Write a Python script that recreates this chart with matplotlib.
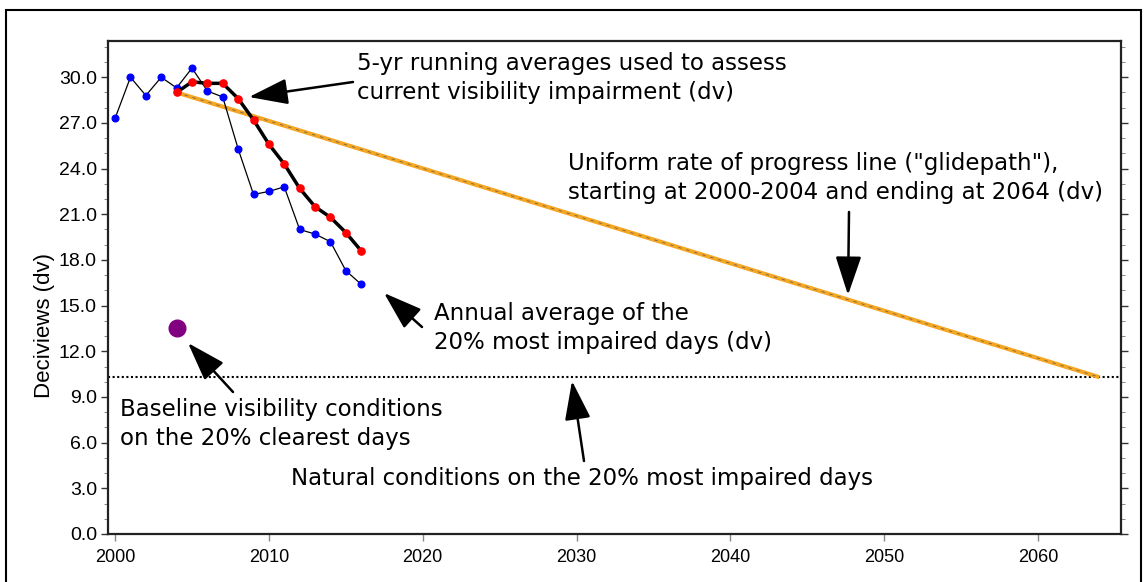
import matplotlib
matplotlib.use("Agg")
import matplotlib.pyplot as plt
from matplotlib.ticker import MultipleLocator, FormatStrFormatter
from matplotlib.patches import Rectangle

years_annual = [2000, 2001, 2002, 2003, 2004, 2005, 2006, 2007, 2008,
                2009, 2010, 2011, 2012, 2013, 2014, 2015, 2016]
annual_dv = [27.3, 30.0, 28.8, 30.0, 29.3, 30.6, 29.1, 28.7, 25.3,
             22.3, 22.5, 22.8, 20.0, 19.7, 19.2, 17.3, 16.4]

years_avg = [2004, 2005, 2006, 2007, 2008, 2009, 2010, 2011, 2012,
             2013, 2014, 2015, 2016]
avg_dv = [29.0, 29.7, 29.6, 29.6, 28.6, 27.2, 25.6, 24.3, 22.7,
          21.5, 20.8, 19.8, 18.6]

glide_years = [2004, 2064]
glide_dv = [29.0, 10.3]

natural_dv = 10.3
baseline_year = [2004]
baseline_dv = [13.5]

W, H = 1147, 582
fig = plt.figure(figsize=(W / 100, H / 100), dpi=100)
ax = fig.add_axes([108 / W, 1 - 534 / H, (1121 - 108) / W, (534 - 40.7) / H])

# outer frame
fig.patches.append(Rectangle((6 / W, -0.05), (1141 - 6) / W, 1 - 10 / H + 0.05,
                             transform=fig.transFigure, fill=False,
                             edgecolor='black', linewidth=1.5))

ax.axhline(natural_dv, color='black', linestyle=(0, (1, 1.2)), linewidth=1.5, zorder=2)
ax.plot(glide_years, glide_dv, color='#f5a623', linewidth=3, zorder=3, solid_capstyle='butt')
ax.plot(glide_years, glide_dv, color='#555555', linewidth=0.6,
        linestyle=(0, (4, 6)), zorder=4, alpha=0.8)
ax.plot(years_annual, annual_dv, color='black', linewidth=0.9, zorder=5)
ax.plot(years_annual, annual_dv, 'o', color='blue', markersize=4.8, zorder=6)
ax.plot(years_avg, avg_dv, color='black', linewidth=2.5, zorder=7)
ax.plot(years_avg, avg_dv, 'o', color='red', markersize=5.2, zorder=8)
ax.plot(baseline_year, baseline_dv, 'o', color='#800080', markersize=12, zorder=8)

ax.set_xlim(1999.54, 2065.4)
ax.set_ylim(0, 32.4)
ax.xaxis.set_major_locator(MultipleLocator(10))
ax.yaxis.set_major_locator(MultipleLocator(3))
ax.yaxis.set_minor_locator(MultipleLocator(1))
ax.yaxis.set_major_formatter(FormatStrFormatter('%.1f'))
ax.tick_params(axis='y', which='major', direction='out', length=5, width=1,
               left=True, right=True, labelsize=14, color='#333333',
               labelfontfamily='Liberation Sans', pad=3)
ax.tick_params(axis='y', which='minor', direction='out', length=3, width=0.7,
               left=True, right=True, color='#888888')
ax.tick_params(axis='x', which='major', direction='out', length=5, width=1,
               bottom=True, top=False, labelsize=13, color='#888888', pad=6,
               labelfontfamily='Liberation Sans')
for s in ax.spines.values():
    s.set_linewidth(1.6)
    s.set_color('#222222')
ax.set_ylabel('Deciviews (dv)', fontsize=16, family='Liberation Sans')
ax.yaxis.set_label_coords(-0.052, (534 - 325) / (534 - 40.7))

tfont = dict(fontsize=16.5, family='DejaVu Sans', color='black', va='center',
             ha='left', linespacing=1.3)
arrow = dict(arrowstyle='-|>,head_length=2.4,head_width=0.8', color='black',
             linewidth=1.8, shrinkA=0, shrinkB=0)


def px(x, y):
    return (x / W, 1 - y / H)


def note(text, x, y):
    fig.text(*px(x, y), text, **tfont)


def arr(tail, tip):
    ax.annotate('', xy=px(*tip), xycoords='figure fraction',
                xytext=px(*tail), textcoords='figure fraction',
                arrowprops=arrow)


note('5-yr running averages used to assess\ncurrent visibility impairment (dv)', 357, 78)
arr((353, 82), (249, 97))

note('Uniform rate of progress line ("glidepath"),\nstarting at 2000-2004 and ending at 2064 (dv)', 568, 178)
arr((849, 212), (848, 295))

note('Annual average of the\n20% most impaired days (dv)', 434, 328)
arr((422, 327), (384, 293))

note('Baseline visibility conditions\non the 20% clearest days', 120, 424)
arr((233, 392), (188, 343))

note('Natural conditions on the 20% most impaired days', 291, 479)
arr((584, 461), (572, 381))

fig.savefig('out.png', dpi=100)
